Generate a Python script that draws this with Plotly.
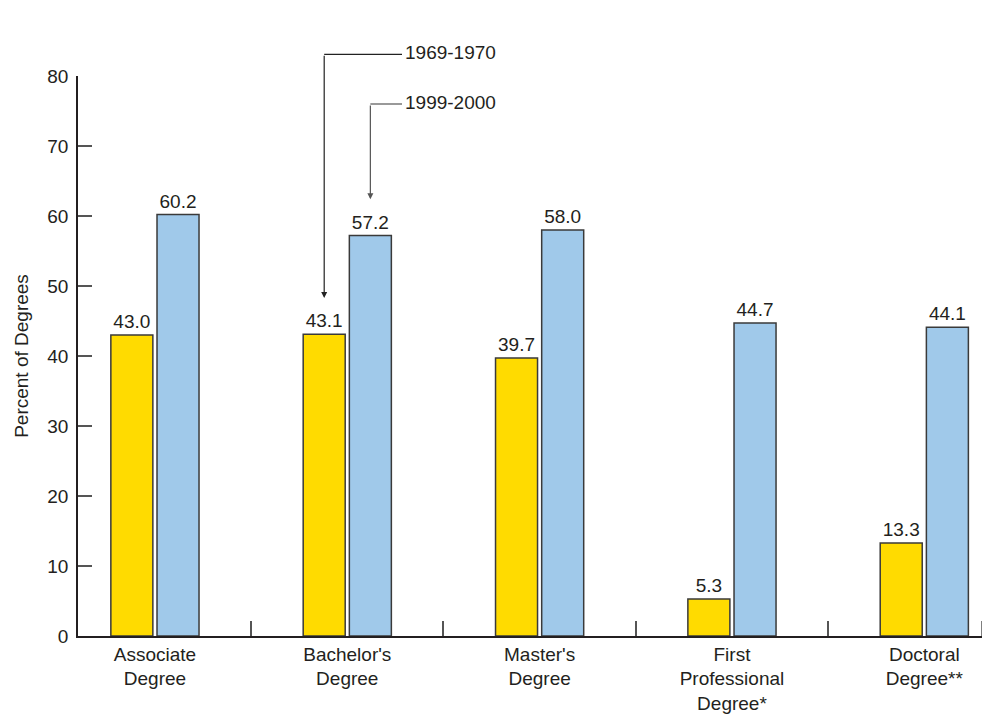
import plotly.graph_objects as go

categories = ["Associate<br>Degree", "Bachelor's<br>Degree", "Master's<br>Degree",
              "First<br>Professional<br>Degree*", "Doctoral<br>Degree**"]
vals_1970 = [43.0, 43.1, 39.7, 5.3, 13.3]
vals_2000 = [60.2, 57.2, 58.0, 44.7, 44.1]
series_names = ["1969-1970", "1999-2000"]
y_ticks = [0, 10, 20, 30, 40, 50, 60, 70, 80]

FONT = "Liberation Sans, Arial, sans-serif"
TXT = "#231F20"
YELLOW = "#FFDB00"
BLUE = "#A0C9EA"
OUTLINE = "#3a3a3a"
BARGAP = 0.52
XR = [-0.4, 4.3]
YR = [0, 80]

fig = go.Figure()
fig.add_trace(go.Bar(x=categories, y=vals_1970, name=series_names[0],
                     marker=dict(color=YELLOW, line=dict(color=OUTLINE, width=1.5)),
                     text=[f"{v:.1f}" for v in vals_1970], textposition="outside",
                     textfont=dict(size=19, color=TXT, family=FONT), cliponaxis=False))
fig.add_trace(go.Bar(x=categories, y=vals_2000, name=series_names[1],
                     marker=dict(color=BLUE, line=dict(color=OUTLINE, width=1.5)),
                     text=[f"{v:.1f}" for v in vals_2000], textposition="outside",
                     textfont=dict(size=19, color=TXT, family=FONT), cliponaxis=False))

fig.update_layout(
    width=982, height=707,
    margin=dict(l=70, r=8, t=68, b=79, autoexpand=False),
    paper_bgcolor="white", plot_bgcolor="white",
    barmode="group", bargap=BARGAP, bargroupgap=0.09,
    showlegend=False,
    font=dict(family=FONT, size=19, color=TXT),
    xaxis=dict(type="category", range=XR, showline=True, linecolor=TXT, linewidth=1.5,
               ticks="inside", tickson="boundaries", ticklen=15, tickwidth=1.5,
               tickcolor="#555", showgrid=False, zeroline=False, automargin=False,
               tickfont=dict(size=19, color=TXT, family=FONT)),
    yaxis=dict(range=YR, tickvals=y_ticks, showline=True, linecolor=TXT, linewidth=1.5,
               ticks="inside", ticklen=14, tickwidth=2, tickcolor="#555",
               showgrid=False, zeroline=False, ticklabelstandoff=4, automargin=False,
               tickfont=dict(size=19, color=TXT, family=FONT),
               title=dict(text="Percent of Degrees", font=dict(size=19, color=TXT, family=FONT),
                          standoff=14)),
)


def px(xv):
    return (xv - XR[0]) / (XR[1] - XR[0])


def py(yv):
    return (yv - YR[0]) / (YR[1] - YR[0])


# leader arrows to the Bachelor's bars
slot = (1 - BARGAP) / 2
bach = 1
x_end = 1.2845
for k, (series, y_top, col) in enumerate([(vals_1970, 83.1, "#222"), (vals_2000, 76.0, "#555")]):
    tipx = bach + (k - 0.5) * slot
    tipy = series[bach] + 5.2
    fig.add_annotation(x=tipx, y=tipy, ax=tipx, ay=y_top, axref="x", ayref="y",
                       xref="x", yref="y", text="", showarrow=True, arrowhead=2,
                       arrowsize=1, arrowwidth=1.2, arrowcolor=col, standoff=0, startstandoff=0)
    fig.add_shape(type="line", xref="paper", yref="paper",
                  x0=px(tipx), x1=px(x_end), y0=py(y_top), y1=py(y_top),
                  line=dict(color=col, width=1.2))
    fig.add_annotation(x=px(x_end), y=py(y_top), xref="paper", yref="paper", text=series_names[k],
                       showarrow=False, xanchor="left", yanchor="middle", xshift=1, yshift=2,
                       font=dict(size=19, color=TXT, family=FONT))

# right-end boundary tick
fig.add_shape(type="line", xref="paper", yref="paper", x0=1, x1=1, y0=0, y1=15 / 560,
              line=dict(color="#555", width=1.5))

fig.write_html("out.html")
